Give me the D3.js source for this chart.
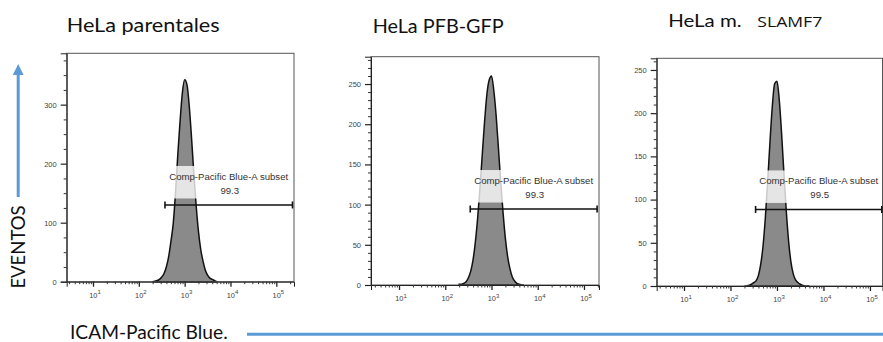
<!DOCTYPE html>
<html><head><meta charset="utf-8">
<script src="https://cdn.jsdelivr.net/npm/d3@7"></script>
<style>body{margin:0;background:#fff} svg{display:block}</style>
</head><body><svg id="c" width="883" height="342"></svg>
<script>
// ---------- data ----------
const logBins = [2.30,2.35,2.40,2.45,2.50,2.55,2.60,2.65,2.70,2.75,2.80,2.85,2.90,2.95,3.00,3.05,3.10,3.15,3.20,3.25,3.30,3.35,3.40,3.45,3.50,3.55,3.60,3.65,3.70];
const countsParentales = [0,1,2,4,8,14,25,42,68,98,150,215,272,320,342,334,298,244,184,130,86,55,35,20,11,6,4,2,0];
const countsPFB        = [1,1,2,4,9,17,31,53,83,120,162,203,237,255,260,242,211,170,128,90,58,35,20,10,5,2,1,0,0];
const countsSLAMF7     = [0,0,1,2,4,6,12,25,46,79,121,167,208,234,237,215,176,130,87,52,28,14,7,4,2,1,0,0,0];
const panelTitles = ["HeLa parentales","HeLa PFB-GFP","HeLa m."];
const titleExtra = ["","","SLAMF7"];
const yMax = [387,284,263.5];
const yMajorTicks = [[0,100,200,300],[0,50,100,150,200,250],[0,50,100,150,200,250]];
const yMinorStep = [25,10,10];
const xLogDomain = [[0.426,5.386],[0.394,5.325],[0.413,5.27]];
const xMajorTicks = [10,100,1000,10000,100000];
const gateLabel = "Comp-Pacific Blue-A subset";
const gatePercent = ["99.3","99.3","99.5"];
const gateLow = [372,347,347];
const gateHighLog = [5.353,5.284,5.255];
const gateLevel = [130,94.5,88.6];
const yAxisTitle = "EVENTOS";
const xAxisTitle = "ICAM-Pacific Blue.";

const counts = [countsParentales,countsPFB,countsSLAMF7];

// ---------- layout ----------
const layout = [
  {l:66.7,t:53.3,r:294,b:281.7, tx:66.7, ty:31.7, fs:18.5, tw:153},
  {l:371, t:56.7,r:599,b:285,   tx:372.7,ty:33.3, fs:18.5, tw:131},
  {l:656.7,t:58.3,r:882.5,b:286,tx:668.3,ty:27.3, fs:17,   tw:73.4}
];
const blue = "#5b9bd5";
const titleFont = "Lato, 'Open Sans', sans-serif";
const smallFont = "Liberation Sans, Arial, sans-serif";
const svg = d3.select("#c");
svg.append("rect").attr("width",883).attr("height",342).attr("fill","#fff");

layout.forEach((L,i)=>{
  const x = d3.scaleLog().domain([10**xLogDomain[i][0],10**xLogDomain[i][1]]).range([L.l,L.r]);
  const y = d3.scaleLinear().domain([0,yMax[i]]).range([L.b,L.t]);
  const g = svg.append("g");

  // histogram
  const data = logBins.map((lb,j)=>({x:10**lb,y:counts[i][j]}));
  const area = d3.area().x(d=>x(d.x)).y0(y(0)).y1(d=>y(d.y)).curve(d3.curveMonotoneX);
  g.append("path").datum(data).attr("d",area)
    .attr("fill","#8a8a8a").attr("stroke","#111").attr("stroke-width",1.5);

  // frame
  g.append("rect").attr("x",L.l).attr("y",L.t).attr("width",L.r-L.l).attr("height",L.b-L.t)
    .attr("fill","none").attr("stroke","#555").attr("stroke-width",1);

  // gate label with translucent box
  const gy = y(gateLevel[i]);
  const gx0 = x(gateLow[i]), gx1 = x(10**gateHighLog[i]);
  const cx = (gx0+gx1)/2;
  const lab = g.append("g");
  const t1 = lab.append("text").attr("x",cx).attr("y",gy-25).attr("text-anchor","middle")
    .attr("font-family",smallFont).attr("font-size",9.6).attr("fill","#333")
    .text(gateLabel);
  lab.append("text").attr("x",cx+1).attr("y",gy-11).attr("text-anchor","middle")
    .attr("font-family",smallFont).attr("font-size",9.6).attr("fill","#333")
    .text(gatePercent[i]);
  const bb = t1.node().getBBox();
  lab.insert("rect","text").attr("x",bb.x-2).attr("y",gy-39).attr("width",bb.width+4).attr("height",32.5)
    .attr("fill","#fff").attr("opacity",0.78);

  // gate bar
  g.append("line").attr("x1",gx0).attr("x2",gx1).attr("y1",gy).attr("y2",gy).attr("stroke","#111").attr("stroke-width",1.6);
  [gx0,gx1].forEach(px=>g.append("line").attr("x1",px).attr("x2",px).attr("y1",gy-3.5).attr("y2",gy+3.5).attr("stroke","#111").attr("stroke-width",1.6));

  // y axis
  const yMinor = d3.range(0,yMax[i],yMinorStep[i]).filter(v=>!yMajorTicks[i].includes(v));
  const ya = g.append("g").attr("transform",`translate(${L.l},0)`)
    .call(d3.axisLeft(y).tickValues(yMajorTicks[i]).tickSize(6).tickPadding(4));
  ya.select(".domain").attr("stroke","#222");
  ya.selectAll("line").attr("stroke","#222").attr("stroke-width",1.2);
  ya.selectAll("text").attr("font-family",smallFont).attr("font-size",7.5).attr("fill","#444");
  const ym = g.append("g").attr("transform",`translate(${L.l},0)`)
    .call(d3.axisLeft(y).tickValues(yMinor).tickSize(3).tickFormat(""));
  ym.select(".domain").remove();
  ym.selectAll("line").attr("stroke","#333");

  // x axis
  const xa = g.append("g").attr("transform",`translate(0,${L.b})`)
    .call(d3.axisBottom(x).tickValues(xMajorTicks).tickSize(5).tickFormat(""));
  xa.select(".domain").attr("stroke","#222");
  xa.selectAll("line").attr("stroke","#222").attr("stroke-width",1.3);
  const minor = x.ticks().filter(v=>!xMajorTicks.includes(v));
  const xm = g.append("g").attr("transform",`translate(0,${L.b})`)
    .call(d3.axisBottom(x).tickValues(minor).tickSize(2.5).tickFormat(""));
  xm.select(".domain").remove();
  xm.selectAll("line").attr("stroke","#333");
  xMajorTicks.forEach(v=>{
    const t = g.append("text").attr("x",x(v)+2).attr("y",L.b+16).attr("text-anchor","middle")
      .attr("font-family",smallFont).attr("font-size",7.4).attr("fill","#444");
    t.append("tspan").text("10");
    t.append("tspan").attr("dy",-3.5).attr("font-size",6).text(String(Math.round(Math.log10(v))));
  });

  // title
  svg.append("text").attr("x",L.tx).attr("y",L.ty)
    .attr("font-family",titleFont).attr("font-size",L.fs).attr("fill","#111")
    .attr("textLength",L.tw).attr("lengthAdjust","spacingAndGlyphs")
    .text(panelTitles[i]);
  if(titleExtra[i]){
    svg.append("text").attr("x",757.3).attr("y",L.ty)
      .attr("font-family","'Open Sans', sans-serif").attr("font-size",14.5).attr("fill","#111")
      .attr("textLength",65).attr("lengthAdjust","spacingAndGlyphs")
      .text(titleExtra[i]);
  }
});

// y axis arrow + title
svg.append("line").attr("x1",18.2).attr("x2",18.2).attr("y1",197).attr("y2",72).attr("stroke",blue).attr("stroke-width",3);
svg.append("path").attr("d","M18.2,64 L12.8,75 L23.6,75 Z").attr("fill",blue);
svg.append("text").attr("transform","translate(24.5,247) rotate(-90)").attr("text-anchor","middle")
  .attr("font-family",titleFont).attr("font-size",18.5).attr("fill","#111").text(yAxisTitle);

// x axis title + line
svg.append("text").attr("x",70).attr("y",339.3)
  .attr("font-family",titleFont).attr("font-size",19.5).attr("fill","#111")
  .attr("textLength",157.7).attr("lengthAdjust","spacingAndGlyphs").text(xAxisTitle);
svg.append("line").attr("x1",247).attr("x2",883).attr("y1",334.3).attr("y2",334.3).attr("stroke",blue).attr("stroke-width",3);
</script></body></html>
